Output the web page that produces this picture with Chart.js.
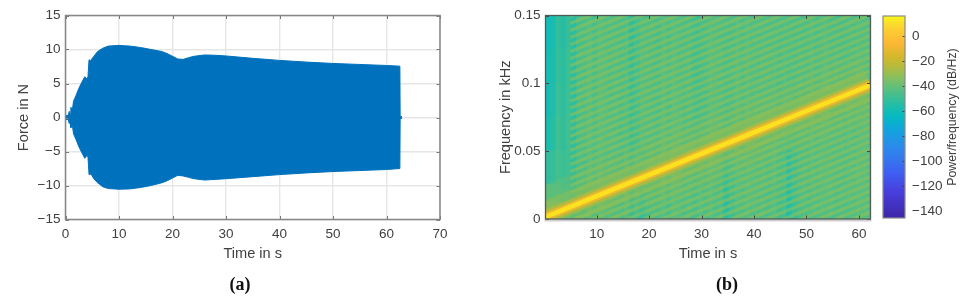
<!DOCTYPE html>
<html><head><meta charset="utf-8">
<script src="https://cdn.jsdelivr.net/npm/chart.js@4"></script>
<style>
html,body{margin:0;padding:0;background:#fff;width:973px;height:305px;overflow:hidden}
canvas{position:absolute;top:0;filter:blur(.35px)}
.cap{position:absolute;top:274px;width:40px;text-align:center;font:bold 18px "Liberation Serif",serif;color:#111;line-height:20px}
.cbt{position:absolute;left:853px;top:109px;width:200px;height:16px;line-height:16px;text-align:center;font:12.3px "Liberation Sans",Arial,sans-serif;color:#404040;transform:rotate(-90deg)}
</style></head><body>
<canvas id="a" width="460" height="305" style="left:0"></canvas>
<canvas id="b" width="395" height="305" style="left:480px"></canvas>
<canvas id="c" width="98" height="305" style="left:875px"></canvas>
<div class="cap" style="left:220px">(a)</div>
<div class="cap" style="left:707px">(b)</div>
<div class="cbt">Power/frequency (dB/Hz)</div>
<script>
// ---- Panel (a): force envelope
const envUpperT=[0,0.5,0.7,0.9,1,1.3,1.5,2,2.5,3,3.6,4,4.2,4.4,4.7,4.9,5.3,6,7,8,10,12,14,16,18,19,20,21,22,23,24,26,28,30,35,40,45,50,55,60,62.5,62.55,62.9];
const envUpper=[0.3,0.3,0.9,0.4,1.5,1.2,2.4,3.3,4.3,5.1,6.0,5.7,6.0,8.5,8.3,8.6,9.0,9.7,10.2,10.5,10.6,10.5,10.3,10.0,9.7,9.4,9.0,8.6,8.55,8.8,9.0,9.2,9.15,9.05,8.7,8.4,8.15,7.95,7.8,7.65,7.55,0.2,0.1];
const envLower=[-0.3,-0.3,-0.9,-0.4,-1.5,-1.2,-2.4,-3.3,-4.3,-5.1,-6.0,-5.6,-5.8,-8.4,-8.3,-8.5,-9.0,-9.6,-10.2,-10.45,-10.55,-10.5,-10.3,-10.0,-9.6,-9.3,-8.9,-8.5,-8.6,-8.8,-9.0,-9.2,-9.1,-9.0,-8.7,-8.4,-8.15,-7.95,-7.8,-7.65,-7.5,-0.2,-0.1];
// ---- Panel (b): spectrogram
const timeCols=[0.75,1.75,2.75,3.75,4.75,5.75,6.75,7.75,8.75,9.75,10.75,11.75,12.75,13.75,14.75,15.75,16.75,17.75,18.75,19.75,20.75,21.75,22.75,23.75,24.75,25.75,26.75,27.75,28.75,29.75,30.75,31.75,32.75,33.75,34.75,35.75,36.75,37.75,38.75,39.75,40.75,41.75,42.75,43.75,44.75,45.75,46.75,47.75,48.75,49.75,50.75,51.75,52.75,53.75,54.75,55.75,56.75,57.75,58.75,59.75,60.75,61.75];
const bandEdges=[0,0.0125,0.025,0.05,0.075,0.1,0.125,0.15];
const band0=[-38,-40,-42,-44,-46,-49,-44,-48,-43,-46,-44,-47,-44,-45,-47,-45,-51,-48,-52,-46,-44,-45,-44,-46,-43,-44,-45,-43,-46,-44,-45,-44,-47,-45,-54,-48,-45,-44,-43,-45,-44,-43,-45,-44,-47,-48,-56,-50,-45,-44,-46,-43,-44,-45,-43,-44,-43,-45,-44,-43,-44,-43];
const band1=[-46,-46,-46,-48,-48,-50,-45,-47,-44,-45,-44,-46,-43,-44,-46,-44,-50,-47,-51,-45,-44,-44,-43,-45,-43,-44,-44,-43,-45,-44,-44,-43,-46,-44,-52,-47,-44,-44,-43,-44,-43,-43,-44,-44,-46,-47,-55,-49,-44,-43,-45,-43,-44,-44,-43,-44,-43,-44,-43,-43,-44,-43];
const band2=[-53,-51,-48,-50,-49,-51,-45,-45,-43,-44,-43,-45,-43,-44,-45,-44,-48,-46,-47,-44,-43,-44,-43,-44,-42,-43,-44,-43,-45,-45,-44,-43,-45,-44,-50,-46,-44,-43,-43,-44,-43,-42,-44,-43,-45,-46,-53,-48,-44,-43,-44,-43,-43,-44,-42,-43,-43,-44,-43,-42,-43,-43];
const band3=[-58,-55,-49,-52,-49,-52,-45,-44,-43,-44,-43,-44,-43,-43,-45,-45,-49,-47,-44,-43,-43,-44,-42,-43,-43,-43,-44,-43,-45,-46,-44,-43,-44,-43,-46,-44,-43,-44,-43,-44,-42,-43,-43,-44,-44,-45,-47,-45,-43,-43,-44,-43,-43,-44,-43,-43,-42,-44,-43,-43,-43,-42];
const band4=[-60,-57,-50,-53,-50,-53,-45,-44,-43,-45,-43,-44,-44,-43,-45,-45,-50,-48,-44,-43,-44,-45,-43,-44,-43,-44,-44,-43,-46,-47,-45,-43,-44,-43,-45,-44,-43,-44,-43,-45,-43,-43,-43,-44,-45,-44,-46,-45,-43,-44,-43,-44,-44,-43,-44,-43,-44,-44,-43,-43,-44,-43];
const band5=[-60,-58,-51,-54,-50,-53,-45,-44,-43,-45,-43,-44,-44,-43,-45,-46,-51,-48,-44,-43,-44,-45,-43,-44,-43,-45,-44,-43,-47,-48,-45,-43,-44,-43,-45,-44,-43,-44,-43,-45,-44,-43,-43,-44,-45,-44,-46,-45,-43,-44,-43,-44,-45,-43,-44,-43,-44,-45,-44,-43,-44,-43];
const band6=[-61,-59,-52,-55,-51,-54,-46,-45,-44,-46,-44,-45,-44,-44,-45,-46,-52,-49,-45,-44,-44,-46,-44,-45,-44,-45,-45,-44,-47,-48,-45,-44,-45,-44,-45,-45,-44,-45,-44,-46,-44,-44,-44,-45,-45,-45,-46,-45,-44,-45,-44,-45,-45,-44,-45,-44,-45,-45,-44,-44,-45,-44];
const ridgeT=[0.25,5,10,20,30,40,50,62.2];
const ridgeF=[0.0015,0.00895,0.0168,0.0325,0.0482,0.0639,0.0796,0.0988];
const lobeOffsets=[-0.1040,-0.0988,-0.0936,-0.0884,-0.0832,-0.0780,-0.0728,-0.0676,-0.0624,-0.0572,-0.0520,-0.0468,-0.0416,-0.0364,-0.0312,-0.0260,-0.0208,-0.0156,-0.0104,0.0104,0.0156,0.0208,0.0260,0.0312,0.0364,0.0416,0.0468,0.0520,0.0572,0.0624,0.0676,0.0728,0.0780,0.0832,0.0884,0.0936,0.0988,0.1040,0.1092,0.1144,0.1196,0.1248,0.1300,0.1352,0.1404,0.1456];
// ---- Colour scale (dB and colour)
const scaleDb=[16,8,-6,-16,-25,-33,-45,-55,-65,-75,-90,-110,-125,-145.6];
const scaleRgb=[[249,251,21],[251,214,46],[253,183,54],[217,184,43],[181,187,62],[138,191,92],[81,191,133],[37,190,165],[5,186,194],[18,165,220],[45,137,236],[63,96,242],[72,63,220],[62,38,168]];
const fTicks=[0,0.05,0.1,0.15];

const tickColor='#404040';
function rgb(db){
  for(let i=0;i<scaleDb.length-1;i++){
    if(db<=scaleDb[i]&&db>=scaleDb[i+1]){
      const k=(scaleDb[i]-db)/(scaleDb[i]-scaleDb[i+1]);
      const c=scaleRgb[i].map((v,j)=>Math.round(v+(scaleRgb[i+1][j]-v)*k));
      return `rgb(${c[0]},${c[1]},${c[2]})`;
    }
  }
  return db>16?'rgb(249,251,21)':'rgb(62,38,168)';
}
const minus=v=>String(v).replace('-','\u2212');
const fixW=w=>s=>{s.width=w};
const fixH=h=>s=>{s.height=h};
function frame(id,col,lw,tick,tickCol,extra){
  return {id,afterDatasetsDraw(ch){
    const {left:l,right:r,top:t,bottom:b}=ch.chartArea,g=ch.ctx;
    g.save();g.strokeStyle=tickCol;g.lineWidth=1;g.beginPath();
    (ch.scales.x.ticks).forEach(k=>{const x=Math.round(ch.scales.x.getPixelForValue(k.value))+.5;
      g.moveTo(x,b);g.lineTo(x,b-tick);g.moveTo(x,t);g.lineTo(x,t+tick);});
    ch.scales.y.ticks.forEach(k=>{const y=Math.round(ch.scales.y.getPixelForValue(k.value))+.5;
      g.moveTo(l,y);g.lineTo(l+tick,y);g.moveTo(r,y);g.lineTo(r-tick,y);});
    g.stroke();
    if(extra){g.strokeStyle=extra;g.lineWidth=2;g.beginPath();g.moveTo(l-1,b+1.5);g.lineTo(r+1,b+1.5);g.stroke();}
    g.strokeStyle=col;g.lineWidth=lw;g.strokeRect(l,t,r-l,b-t);
    g.restore();
  }};
}
const axFont={family:'"Liberation Sans",Arial,sans-serif',size:13.5};
const titleFont={family:'"Liberation Sans",Arial,sans-serif',size:14.6};

// Panel (a)
new Chart(document.getElementById('a'),{
  type:'scatter',
  data:{datasets:[
    {type:'line',data:envUpperT.map((t,i)=>({x:t,y:envUpper[i]})),borderColor:'#0071BC',borderWidth:1,backgroundColor:'#0071BC',pointRadius:0,fill:'+1',tension:0},
    {type:'line',data:envUpperT.map((t,i)=>({x:t,y:envLower[i]})),borderColor:'#0071BC',borderWidth:1,pointRadius:0,fill:false,tension:0}
  ]},
  options:{responsive:false,animation:false,
    layout:{padding:{left:0,right:20,top:15.5,bottom:0}},
    plugins:{legend:{display:false},tooltip:{enabled:false}},
    scales:{
      x:{type:'linear',min:0,max:70,afterFit:fixH(85.5),
        grid:{color:'#e6e6e6',lineWidth:1.4,drawTicks:false},border:{display:false},
        ticks:{stepSize:10,color:tickColor,font:axFont,padding:7,maxRotation:0},
        title:{display:true,text:'Time in s',color:tickColor,font:titleFont,padding:{top:42,bottom:42}}},
      y:{min:-15,max:15,afterFit:fixW(65.5),
        grid:{color:'#e6e6e6',lineWidth:1.4,drawTicks:false},border:{display:false},
        ticks:{stepSize:5,color:tickColor,font:axFont,padding:5,callback:minus},
        title:{display:true,text:'Force in N',color:tickColor,font:titleFont,padding:{top:15,bottom:15}}}
    }
  },
  plugins:[frame('fa','#868686',1.5,3.5,'#777')]
});

// Panel (b)
const bands=[band0,band1,band2,band3,band4,band5,band6];
const sets=bands.map((row,r)=>({type:'bar',order:6,grouped:false,barPercentage:1,categoryPercentage:1,inflateAmount:0.6,borderWidth:0,
  data:timeCols.map((t,i)=>({x:t,y:[bandEdges[r],bandEdges[r+1]]})),
  backgroundColor:row.map(rgb)}));
const ridgePts=ridgeT.map((t,i)=>({x:t,y:ridgeF[i]}));
const line=(data,color,w,order,dash)=>({type:'line',order,data,borderColor:color,borderWidth:w,pointRadius:0,fill:false,tension:0,borderDash:dash||[],borderCapStyle:'butt'});
sets.push(line(ridgePts,'rgba(150,190,75,.2)',60,5.5));
sets.push(line(ridgePts,'rgba(160,188,70,.4)',32,5));
lobeOffsets.forEach(o=>{
  const pts=ridgePts.slice(1).map(p=>({x:p.x,y:p.y+o}));
  sets.push(line(pts,'rgba(140,192,88,.6)',3,4));
  sets.push(line(pts.map(p=>({x:p.x,y:p.y+0.0026})),'rgba(35,190,165,.32)',1.2,3,[18,5,6,11]));
});
sets.push(line(ridgePts,'rgba(180,187,60,.85)',14,2.5));
sets.push(line(ridgePts,'#EBB82F',8.5,2));
sets.push(line(ridgePts,'#FCE11F',4.5,1));
new Chart(document.getElementById('b'),{
  type:'bar',
  data:{datasets:sets},
  options:{responsive:false,animation:false,
    layout:{padding:{left:0,right:4.5,top:15.5,bottom:0}},
    plugins:{legend:{display:false},tooltip:{enabled:false}},
    scales:{
      x:{type:'linear',min:0.25,max:62.2,offset:false,afterFit:fixH(86),
        grid:{display:false,drawTicks:false},border:{display:false},
        ticks:{stepSize:10,includeBounds:false,color:tickColor,font:axFont,padding:7,maxRotation:0,autoSkip:false},
        title:{display:true,text:'Time in s',color:tickColor,font:titleFont,padding:{top:42,bottom:42}}},
      y:{type:'linear',min:0,max:0.15,afterFit:fixW(65.5),
        afterBuildTicks:s=>{s.ticks=fTicks.map(v=>({value:v}));},
        grid:{display:false,drawTicks:false},border:{display:false},
        ticks:{color:tickColor,font:axFont,padding:5,autoSkip:false,callback:v=>String(+(+v).toFixed(2))},
        title:{display:true,text:'Frequency in kHz',color:tickColor,font:titleFont,padding:{top:17,bottom:17}}}
    }
  },
  plugins:[frame('fb','#4f5a5a',1.3,3.5,'#444','#cfcfcf')]
});

// Colour bar
const barSets=[];
for(let d=-146;d<16;d+=2){
  barSets.push({grouped:false,barPercentage:1,categoryPercentage:1,inflateAmount:0.6,borderWidth:0,
    data:[[d,d+2]],backgroundColor:rgb(d+1)});
}
new Chart(document.getElementById('c'),{
  type:'bar',
  data:{labels:['dB'],datasets:barSets},
  options:{responsive:false,animation:false,
    layout:{padding:{left:8,right:0,top:16,bottom:87}},
    plugins:{legend:{display:false},tooltip:{enabled:false}},
    scales:{
      x:{display:false,offset:true},
      y:{position:'right',min:-145.6,max:16,afterFit:fixW(68),
        grid:{display:false,drawTicks:false},border:{display:false},
        ticks:{stepSize:20,includeBounds:false,color:tickColor,font:axFont,padding:7,autoSkip:false,callback:minus,crossAlign:'near'}}
    }
  },
  plugins:[{id:'fc',afterDatasetsDraw(ch){
    const {left:l,right:r,top:t,bottom:b}=ch.chartArea,g=ch.ctx;
    g.save();g.strokeStyle='#444';g.lineWidth=1;g.beginPath();
    ch.scales.y.ticks.forEach(k=>{const y=Math.round(ch.scales.y.getPixelForValue(k.value))+.5;g.moveTo(r,y);g.lineTo(r-2.5,y);});
    g.stroke();g.strokeStyle='#8a8a8a';g.lineWidth=1.2;g.strokeRect(l,t,r-l,b-t);g.restore();
  }}]
});
</script>
</body></html>
